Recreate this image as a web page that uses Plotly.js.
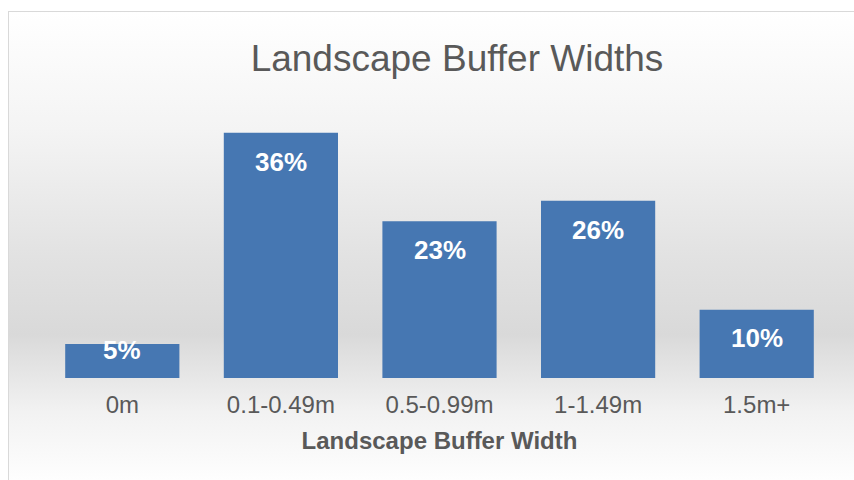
<!DOCTYPE html>
<html>
<head>
<meta charset="utf-8">
<script src="https://cdn.plot.ly/plotly-3.0.1.min.js"></script>
<style>
  html, body { margin: 0; padding: 0; width: 854px; height: 480px; overflow: hidden; background: #ffffff; }
  #frame {
    position: absolute; left: 8px; top: 11px; width: 900px; height: 490px;
    border: 1px solid #d9d9d9; box-sizing: border-box;
    background: linear-gradient(to bottom, #ffffff 0%, #f4f4f4 24%, #e2e2e2 50%, #d9d9d9 66%, #f2f2f2 82%, #ffffff 97%);
  }
  #chart { position: absolute; left: 0; top: 0; width: 854px; height: 480px; }
</style>
</head>
<body>
<div id="frame"></div>
<div id="chart"></div>
<script>
const categories = ["0m", "0.1-0.49m", "0.5-0.99m", "1-1.49m", "1.5m+"];
const percentValues = [5, 36, 23, 26, 10];
const valueLabels = ["5%", "36%", "23%", "26%", "10%"];
const chartTitle = "Landscape Buffer Widths";
const xAxisTitle = "Landscape Buffer Width";

const W = 854, H = 480;
const mTop = 100, mBottom = 102, mLeft = 43, mRight = 18;
const yMax = 40.8;
const pxPerUnit = (H - mTop - mBottom) / yMax;

const trace = {
  type: "bar",
  x: categories,
  y: percentValues,
  marker: { color: "#4677b2", line: { width: 0 } },
  width: 0.72,
  hoverinfo: "skip"
};

const annotations = categories.map((c, i) => {
  const v = percentValues[i];
  const shift = Math.min(29, Math.max(6, v * pxPerUnit - 40));
  return {
    x: c, y: v, xref: "x", yref: "y",
    text: "<b>" + valueLabels[i] + "</b>",
    showarrow: false, yanchor: "middle", yshift: -shift,
    font: { family: "Liberation Sans, Arial, sans-serif", size: 26, color: "#ffffff" }
  };
});

const layout = {
  width: W, height: H,
  margin: { t: mTop, b: mBottom, l: mLeft, r: mRight },
  paper_bgcolor: "rgba(0,0,0,0)",
  plot_bgcolor: "rgba(0,0,0,0)",
  showlegend: false,
  title: {
    text: chartTitle,
    x: 457 / W, xanchor: "center", xref: "container",
    y: 1 - 58 / H, yanchor: "middle", yref: "container",
    font: { family: "Liberation Sans, Arial, sans-serif", size: 37, color: "#595959" }
  },
  xaxis: {
    type: "category",
    showgrid: false, zeroline: false, showline: false, ticks: "",
    tickfont: { family: "Liberation Sans, Arial, sans-serif", size: 24, color: "#595959" },
    ticklabelstandoff: 10,
    title: {
      text: "<b>" + xAxisTitle + "</b>",
      standoff: 15,
      font: { family: "Liberation Sans, Arial, sans-serif", size: 24, color: "#595959" }
    }
  },
  yaxis: {
    range: [0, yMax],
    visible: false, showgrid: false, zeroline: false
  },
  annotations: annotations
};

Plotly.newPlot("chart", [trace], layout, { displayModeBar: false, staticPlot: true });
</script>
</body>
</html>
